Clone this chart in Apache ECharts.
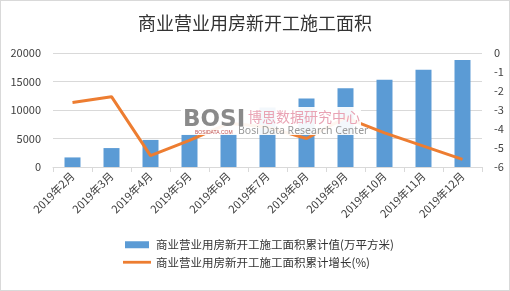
<!DOCTYPE html>
<html><head><meta charset="utf-8">
<script src="https://cdn.jsdelivr.net/npm/echarts@6/dist/echarts.min.js"></script>
<style>html,body{margin:0;padding:0;background:#fff}#c{width:508px;height:289px;border:1px solid #d9d9d9}</style>
</head><body><div id="c"></div>
<script>
var title = '商业营业用房新开工施工面积';
var categories = ['2019年2月','2019年3月','2019年4月','2019年5月','2019年6月','2019年7月','2019年8月','2019年9月','2019年10月','2019年11月','2019年12月'];
var barName = '商业营业用房新开工施工面积累计值(万平方米)';
var lineName = '商业营业用房新开工施工面积累计增长(%)';
var barValues = [1680, 3320, 4750, 5740, 5820, 10450, 12000, 13800, 15300, 17040, 18780];
var lineValues = [-2.6, -2.3, -5.4, -4.6, -3.7, -3.9, -4.5, -3.4, -4.2, -4.9, -5.6];
var leftTicks = {min: 0, max: 20000, interval: 5000};
var rightTicks = {min: -6, max: 0, interval: 1};

var font = '"Noto Sans CJK SC", "Noto Sans", sans-serif';
var chart = echarts.init(document.getElementById('c'));
chart.setOption({
  animation: false,
  textStyle: {fontFamily: font},
  title: {text: title, left: 'center', top: 8, textStyle: {fontSize: 18, fontWeight: 'normal', color: '#333', fontFamily: font}},
  grid: {left: 52, right: 27, top: 52, bottom: 123},
  legend: {
    orient: 'vertical', left: 117, top: 233, itemGap: 6, itemWidth: 28, itemHeight: 7,
    textStyle: {fontSize: 11.5, color: '#333', fontFamily: font},
    data: [{name: barName, icon: 'path://M0,0h24v7h-24z'}, {name: lineName, icon: 'path://M0,0h30v3h-30z'}]
  },
  xAxis: {
    type: 'category', data: categories,
    axisLine: {lineStyle: {color: '#d9d9d9'}},
    axisTick: {show: true, length: 5, lineStyle: {color: '#d9d9d9'}},
    axisLabel: {rotate: 45, fontSize: 11, color: '#404040', margin: 7, interval: 0}
  },
  yAxis: [
    {type: 'value', min: leftTicks.min, max: leftTicks.max, interval: leftTicks.interval,
     axisLine: {show: false}, axisTick: {show: false},
     axisLabel: {fontSize: 11, color: '#404040', margin: 12, formatter: function (v) { return String(v); }},
     splitLine: {lineStyle: {color: '#d9d9d9'}}},
    {type: 'value', min: rightTicks.min, max: rightTicks.max, interval: rightTicks.interval,
     axisLine: {show: false}, axisTick: {show: false},
     axisLabel: {fontSize: 11, color: '#404040', margin: 12},
     splitLine: {show: false}}
  ],
  series: [
    {name: barName, type: 'bar', data: barValues, barWidth: '41%', itemStyle: {color: '#5B9BD5'}, yAxisIndex: 0},
    {name: lineName, type: 'line', data: lineValues, yAxisIndex: 1, symbol: 'none', lineStyle: {color: '#ED7D31', width: 3}, itemStyle: {color: '#ED7D31'}, z: 3}
  ],
  graphic: [
    {type: 'rect', left: 180, top: 106, z: 100, shape: {width: 180, height: 28}, style: {fill: 'rgba(255,255,255,0.93)'}},
    {type: 'text', left: 182, top: 108, z: 101, style: {text: 'BOSI', font: 'bold 23px "DejaVu Sans", sans-serif', fill: '#8a8a8a'}},
    {type: 'text', left: 194, top: 129, z: 101, style: {text: 'BOSIDATA.COM', font: '5px sans-serif', fill: '#c05050'}},
    {type: 'text', left: 247, top: 109, z: 101, style: {text: '博思数据研究中心', font: '14px "Noto Sans CJK SC"', fill: '#e9a3b4'}},
    {type: 'text', left: 237, top: 125, z: 101, style: {text: 'Bosi Data Research Center', font: '10.5px "Noto Sans", sans-serif', fill: '#9a9a9a'}}
  ]
});
</script></body></html>
